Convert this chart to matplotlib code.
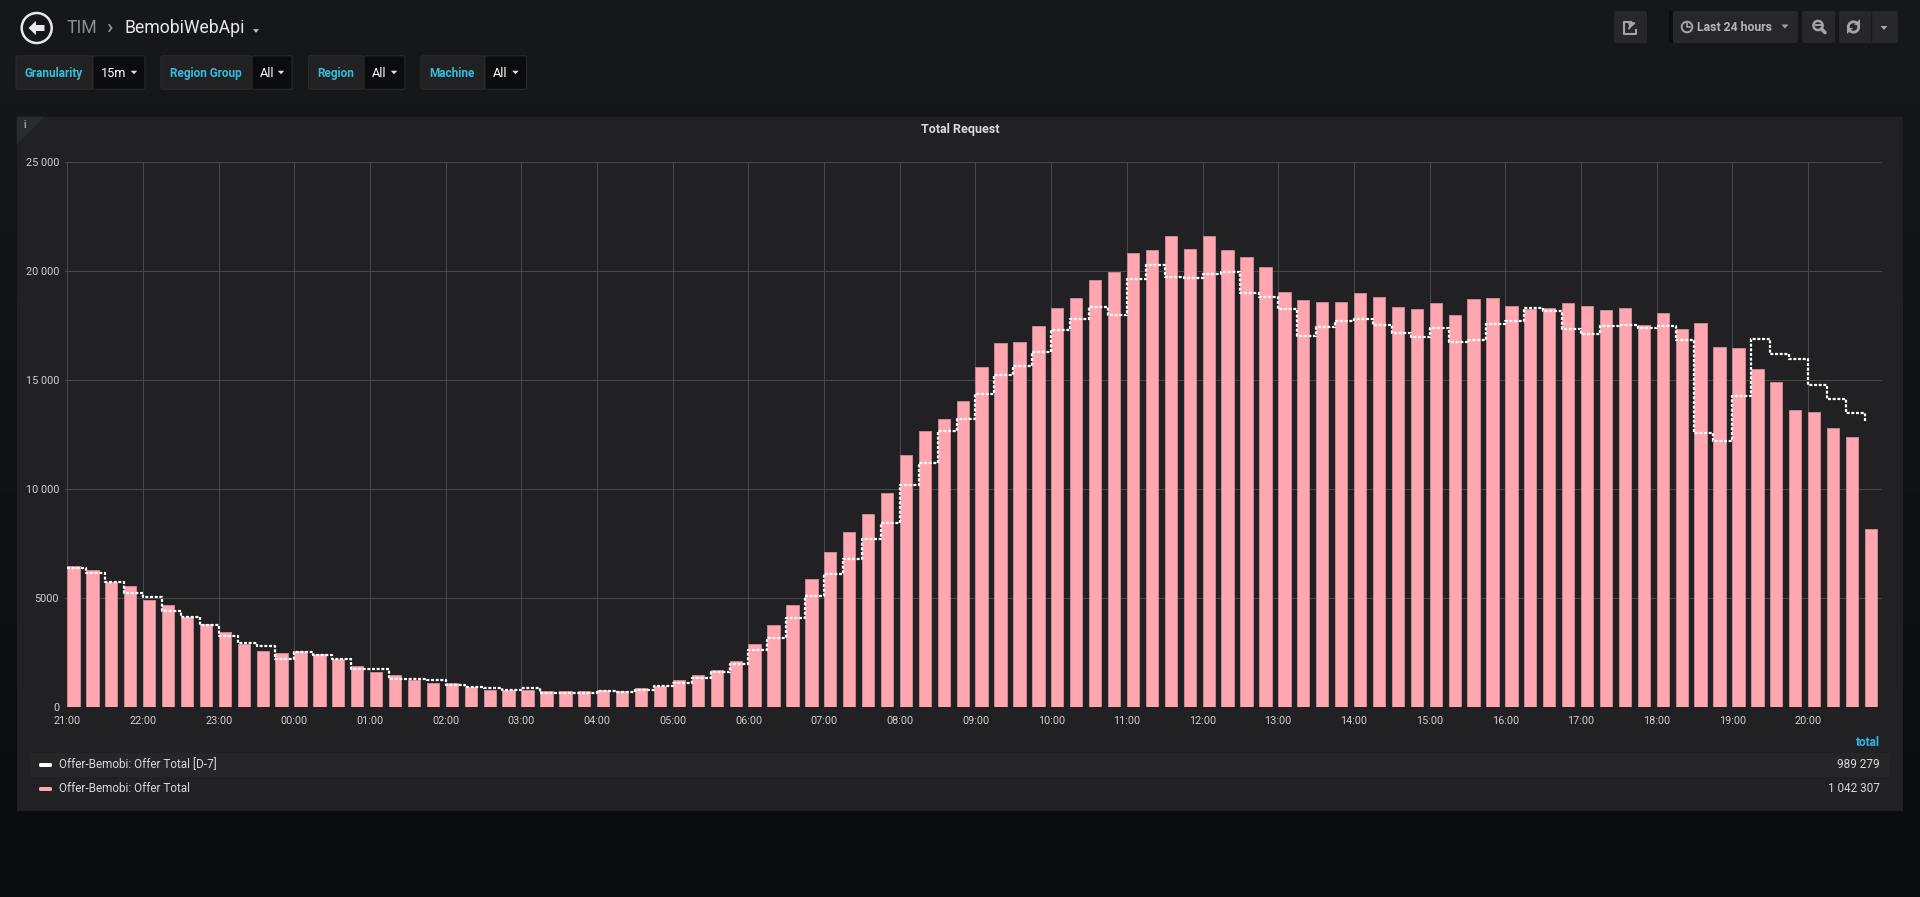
import numpy as np
import pandas as pd
import matplotlib
matplotlib.use("Agg")
import matplotlib.pyplot as plt
import matplotlib.dates as mdates
from matplotlib.patches import Rectangle, FancyBboxPatch, Circle, Polygon, FancyArrowPatch

plt.rcParams['font.family'] = ['Roboto', 'DejaVu Sans']

# Data: 15 minute buckets, 21:00 (day before) to 20:45
start = "2018-05-09 21:00"

offer_total = [
    6480, 6290, 5730, 5520, 4910, 4660, 4140, 3820, 3430, 2860, 2570, 2450,
    2570, 2430, 2180, 1860, 1610, 1460, 1250, 1110, 1070, 890, 790, 790,
    790, 710, 710, 710, 750, 710, 840, 960, 1210, 1460, 1680, 2110,
    2890, 3730, 4660, 5840, 7090, 8020, 8820, 9790, 11540, 12640, 13210, 14020,
    15590, 16700, 16730, 17460, 18290, 18730, 19570, 19930, 20820, 20930, 21570, 21000,
    21590, 20930, 20630, 20160, 19040, 18660, 18570, 18550, 18980, 18790, 18340, 18250,
    18540, 17960, 18700, 18750, 18360, 18250, 18290, 18540, 18390, 18210, 18290, 17500,
    18040, 17340, 17610, 16520, 16450, 15500, 14910, 13610, 13520, 12790, 12360, 8140,
]

offer_d7 = [
    6360, 6140, 5730, 5210, 5050, 4410, 4140, 3750, 3270, 2930, 2770, 2180,
    2500, 2390, 2180, 1730, 1730, 1290, 1290, 1210, 1000, 890, 860, 790,
    860, 640, 640, 610, 710, 680, 790, 950, 1110, 1300, 1590, 1950,
    2610, 3160, 4070, 5070, 6110, 6790, 7680, 8450, 10180, 11200, 12630, 13180,
    14340, 15210, 15640, 16290, 17270, 17790, 18320, 17950, 19630, 20250, 19710, 19680,
    19840, 19930, 19000, 18800, 18250, 17000, 17430, 17700, 17790, 17500, 17130, 16980,
    17380, 16730, 16820, 17550, 17700, 18270, 18130, 17320, 17090, 17450, 17520, 17390,
    17480, 16840, 12570, 12180, 14270, 16880, 16200, 15930, 14770, 14110, 13460, 13070,
]

series_names = ["Offer-Bemobi: Offer Total [D-7]", "Offer-Bemobi: Offer Total"]
series_totals = ["989 279", "1 042 307"]
ytick_values = [0, 5000, 10000, 15000, 20000, 25000]
ytick_labels = ["0", "5000", "10 000", "15 000", "20 000", "25 000"]
var_labels = ["Granularity", "Region Group", "Region", "Machine"]
var_values = ["15m", "All", "All", "All"]

W, H = 1920, 897
fig = plt.figure(figsize=(W / 100, H / 100), dpi=100)

# background layer in pixel coordinates
bg = fig.add_axes([0, 0, 1, 1])
bg.set_xlim(0, W)
bg.set_ylim(H, 0)
bg.axis('off')

top_c = np.array([22, 23, 25]) / 255
bot_c = np.array([11, 12, 14]) / 255
yy = np.clip((np.arange(H) - 100) / 720.0, 0, 1)[:, None]
grad = top_c[None, :] * (1 - yy) + bot_c[None, :] * yy
bg.imshow(grad[:, None, :], extent=(0, W, H, 0), aspect='auto', zorder=0)


def box(x0, y0, x1, y1, fc, ec='none', lw=0, r=2, z=1):
    bg.add_patch(FancyBboxPatch((x0, y0), x1 - x0, y1 - y0,
                                boxstyle=f"round,pad=0,rounding_size={r}",
                                fc=fc, ec=ec, lw=lw, zorder=z))


def caret(x, y, c, w=7, h=4):
    bg.add_patch(Polygon([(x - w / 2, y - h / 2), (x + w / 2, y - h / 2), (x, y + h / 2)],
                         closed=True, fc=c, ec='none', zorder=3))


# header: back button and breadcrumb
bg.add_patch(Circle((36.7, 28), 15, fill=False, ec='#e8e8e8', lw=1.8, zorder=3))
bg.add_patch(Polygon([(28.5, 28), (36, 20.8), (36, 25), (44.5, 25), (44.5, 31),
                      (36, 31), (36, 35.2)], closed=True, fc='#e8e8e8', ec='none', zorder=3))
bg.text(67, 28, "TIM", fontsize=12.7, color='#8e8e8e', va='center', ha='left')
bg.text(109, 27, "›", fontsize=15, color='#8e8e8e', va='center', ha='center',
        fontweight='bold')
bg.text(124, 28, "BemobiWebApi", fontsize=12.7, color='#e9e9e9', va='center', ha='left')
caret(256, 31, '#c8c8c8', w=6, h=3.5)

# template variables
var_x = [(16, 93, 145), (161, 252, 292), (308.6, 364, 405), (421, 485, 526.5)]
for (x0, x1, x2), lab, val in zip(var_x, var_labels, var_values):
    box(x0, 55.7, x1, 89.3, '#212124', ec='#2a2a2d', lw=0.8)
    box(x1, 55.7, x2, 89.3, '#0b0c0e', ec='#2a2a2d', lw=0.8)
    bg.text(x0 + 8.5, 77.2, lab, fontsize=8.5, fontweight='bold', color='#33bfd9',
            va='baseline', ha='left', zorder=4)
    bg.text(x1 + 8, 77.4, val, fontsize=9.2, color='#ffffff', va='baseline',
            ha='left', zorder=4)
    caret(x2 - 11, 72.5, '#e0e0e0', w=6.5, h=3.5)

# top right buttons
btn = '#27272a'
gray = '#a3a4a7'
box(1614, 11, 1647, 43, btn)
bg.plot([1631, 1624, 1624, 1636, 1636], [22, 22, 34, 34, 30], color=gray, lw=1.5, zorder=3)
bg.add_patch(FancyArrowPatch((1628, 31), (1639, 22.5), connectionstyle='arc3,rad=-0.35',
                             arrowstyle='-|>', mutation_scale=8, color=gray, lw=1.5, zorder=3))
bg.add_patch(Rectangle((1669, 11), 4, 32, fc='#0b0c0e', ec='none', zorder=2))
box(1673, 11, 1798, 43, btn)
bg.add_patch(Circle((1687, 27), 5.3, fill=False, ec=gray, lw=1.4, zorder=3))
bg.plot([1687, 1687, 1690], [23.5, 27, 27], color=gray, lw=1.2, zorder=3)
bg.text(1697, 27.5, "Last 24 hours", fontsize=8.8, fontweight='bold', color='#b4b5b8',
        va='center', ha='left', zorder=4)
caret(1785, 26.5, gray, w=7, h=4)

box(1802, 11, 1835, 43, btn)
bg.add_patch(Circle((1818, 25.5), 4.6, fill=False, ec=gray, lw=1.8, zorder=3))
bg.plot([1821.5, 1825], [29, 32.5], color=gray, lw=2.6, solid_capstyle='round', zorder=3)
bg.plot([1815.5, 1820.5], [25.5, 25.5], color=gray, lw=1.4, zorder=3)

box(1839, 11, 1898, 43, btn)
bg.plot([1870.5, 1870.5], [11, 43], color='#1b1b1d', lw=1, zorder=3)
cx, cy, rr = 1853.5, 27, 5.2
a1 = np.radians(np.linspace(205, 40, 30))
bg.plot(cx + rr * np.cos(a1), cy - rr * np.sin(a1), color=gray, lw=2, zorder=3)
a2 = np.radians(np.linspace(25, -140, 30))
bg.plot(cx + rr * np.cos(a2), cy - rr * np.sin(a2), color=gray, lw=2, zorder=3)
bg.add_patch(Polygon([(cx + 6.8, cy - 7.5), (cx + 6.8, cy - 1.5), (cx + 0.8, cy - 1.5)],
                     closed=True, fc=gray, ec='none', zorder=3))
bg.add_patch(Polygon([(cx - 6.8, cy + 7.5), (cx - 6.8, cy + 1.5), (cx - 0.8, cy + 1.5)],
                     closed=True, fc=gray, ec='none', zorder=3))
caret(1884, 28, gray, w=7, h=4)

# panel
bg.add_patch(Rectangle((16.7, 116.7), 1903 - 16.7, 810.7 - 116.7, fc='#212124',
                       ec='none', zorder=1))
bg.add_patch(Polygon([(16.7, 116.7), (44, 116.7), (16.7, 144)], closed=True,
                     fc='#2a2b2e', ec='none', zorder=2))
bg.text(24.6, 125, "i", fontsize=7, fontweight='bold', color='#9aa3b0', va='center',
        ha='center', zorder=3)
bg.text(960, 130, "Total Request", fontsize=9, fontweight='bold', color='#d8d9da',
        va='center', ha='center', zorder=3)

# legend table
bg.add_patch(Rectangle((30, 752.7), 1890 - 30, 777 - 752.7, fc='#262628', ec='none', zorder=2))
bg.text(1880, 742, "total", fontsize=8.5, fontweight='bold', color='#33b5e5',
        va='center', ha='right', zorder=3)
sw_colors = ['#ffffff', '#ffa6b0']
for i, (name, tot, sc) in enumerate(zip(series_names, series_totals, sw_colors)):
    yc = 765 + i * 24
    box(39, yc - 2, 52, yc + 2, sc, r=1.5, z=3)
    bg.text(59, yc, name, fontsize=8.5, color='#d8d9da', va='center', ha='left', zorder=3)
    bg.text(1880, yc, tot, fontsize=8.5, color='#d8d9da', va='center', ha='right', zorder=3)

# chart
times = pd.date_range(start, periods=len(offer_total), freq='15min')
xnum = mdates.date2num(times.to_pydatetime())
step = 15 / 1440.0

ax = fig.add_axes([65.4 / W, 1 - 706.8 / H, (1881.8 - 65.4) / W, (706.8 - 161.7) / H])
ax.set_facecolor('none')
ax.set_axisbelow(True)
ax.bar(xnum, offer_total, width=step * 0.65, align='edge', color='#ffa6b0',
       edgecolor='#c78a92', linewidth=0.7, zorder=2)
ax.step(xnum, offer_d7, where='post', color='white', lw=1.6,
        linestyle=(0, (1.35, 0.75)), zorder=3)

ax.set_xlim(xnum[0] - 1.5 / 1440, xnum[0] - 1.5 / 1440 + 1)
ax.set_ylim(0, 25000)
ax.set_yticks(ytick_values)
ax.set_yticklabels(ytick_labels)
ax.xaxis.set_major_locator(mdates.HourLocator())
ax.xaxis.set_major_formatter(mdates.DateFormatter('%H:%M'))
ax.grid(True, color='#48484a', lw=0.75)
for s in ax.spines.values():
    s.set_visible(False)
ax.tick_params(axis='both', length=0, colors='#cfd0d1', labelsize=7.8)
ax.tick_params(axis='y', pad=4.6)
ax.tick_params(axis='x', pad=6.5)

fig.savefig("out.png", dpi=100)
